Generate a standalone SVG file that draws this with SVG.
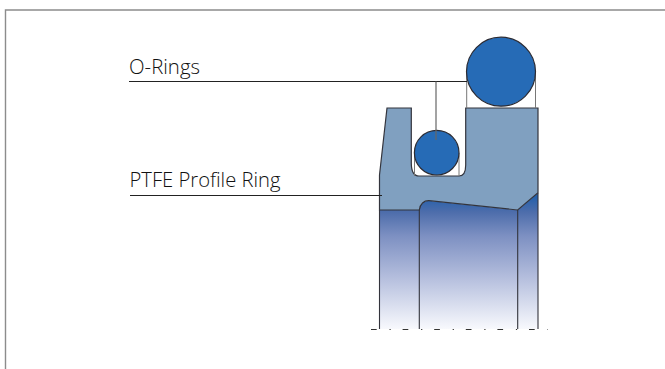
<svg xmlns="http://www.w3.org/2000/svg" width="665" height="369" viewBox="0 0 665 369">
<style>
.lbl{font-family:"Open Sans","Noto Sans",sans-serif;font-size:20.5px;font-weight:300;fill:#111}
.lead{fill:none;stroke:#222;stroke-width:1.2}
.thin{fill:none;stroke:#777;stroke-width:1}
.ring{fill:#266bb6;stroke:#2b2b33;stroke-width:1.2}
.edge{fill:none;stroke:#33343c;stroke-width:1.1}
</style>
<defs>
<linearGradient id="bore" gradientUnits="userSpaceOnUse" x1="0" y1="196" x2="0" y2="329">
<stop offset="0" stop-color="#2360ab"/>
<stop offset="0.12" stop-color="#4d6dab"/>
<stop offset="0.3" stop-color="#7d90c2"/>
<stop offset="0.6" stop-color="#b2bcdc"/>
<stop offset="1" stop-color="#f8f9fd"/>
</linearGradient>
</defs>
<rect width="665" height="369" fill="#fff"/>
<path d="M665 10H5.500V369" fill="none" stroke="#8c8c8c" stroke-width="1.400"/>
<g id="bore-section">
<path d="M379.500 210H419.300C420 204 424 200.500 429 200.700L517.700 210L538 192.700V329H379.500Z" fill="url(#bore)"/>
<path class="edge" d="M379.500 210V329M419.300 210V329M517.700 210V329M538 193V329"/>
<path d="M371 329.500H548" fill="none" stroke="#333" stroke-width="1" stroke-dasharray="5.700 12.800 1.200 11.900"/>
</g>
<g id="ptfe-profile-ring">
<path d="M387 108H411.300V163C411.300 171 413.500 176 419 176H459C463.500 176 465.700 172 465.700 165V108H538V192.700L517.700 210L429 200.700C424 200.500 420 204 419.300 210H379.500V175Z" fill="#80a0c0" stroke="#33343c" stroke-width="1.200"/>
</g>
<g id="o-ring-small">
<path class="thin" d="M414.500 153V176M459 153V176"/>
<circle class="ring" cx="436.700" cy="152.700" r="22.300"/>
</g>
<g id="o-ring-large">
<path class="thin" d="M466.700 72V108M535.500 72V108"/>
<circle class="ring" cx="501" cy="71.700" r="34.500"/>
</g>
<g id="connectors">
<path class="lead" d="M129 81.500H467"/>
<path class="lead" d="M130 195.500H382"/>
<path d="M436 81.500V140" fill="none" stroke="#666" stroke-width="1.200"/>
</g>
<g id="label-o-rings"><text class="lbl" x="129" y="74" textLength="71" lengthAdjust="spacingAndGlyphs">O-Rings</text></g>
<g id="label-ptfe"><text class="lbl" x="129.500" y="187" textLength="151" lengthAdjust="spacingAndGlyphs">PTFE Profile Ring</text></g>
</svg>
